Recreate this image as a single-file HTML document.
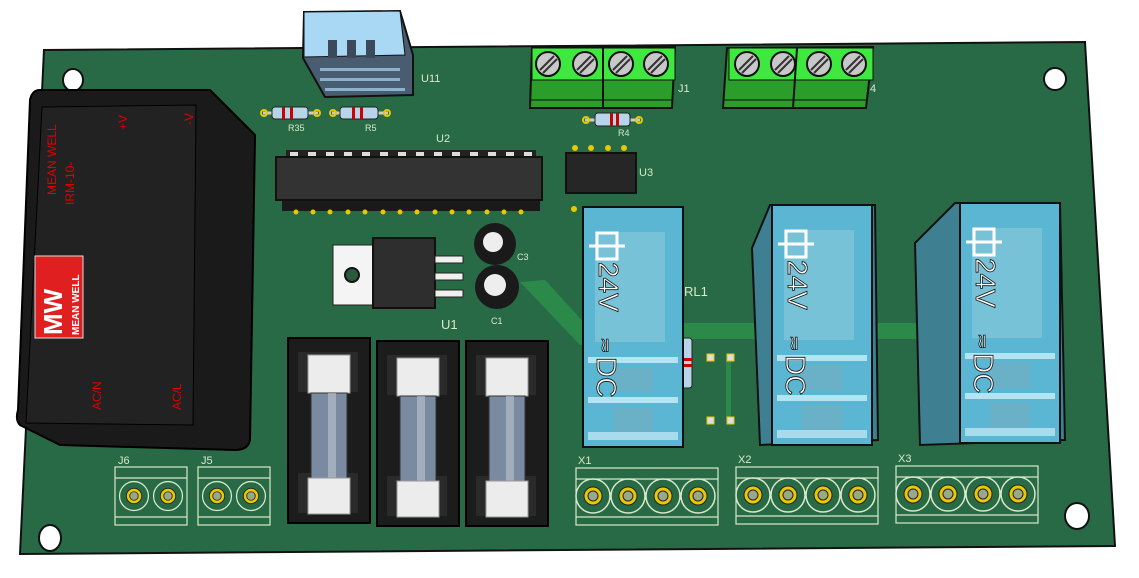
<!DOCTYPE html>
<html><head><meta charset="utf-8"><style>
html,body{margin:0;padding:0;background:#fff;width:1139px;height:578px;overflow:hidden}
svg{display:block}
text{font-family:"Liberation Sans",sans-serif}
</style></head><body>
<svg width="1139" height="578" viewBox="0 0 1139 578" xmlns="http://www.w3.org/2000/svg">
<defs>
<g id="scr"><circle r="12" fill="#c8c8c8" stroke="#111" stroke-width="2"/><line x1="-8" y1="6" x2="6" y2="-8" stroke="#333" stroke-width="2"/><line x1="-5" y1="9" x2="9" y2="-5" stroke="#333" stroke-width="2"/></g>
<g id="pad"><circle r="17" fill="none" stroke="#d8e8c8" stroke-width="1.5"/><circle r="9" fill="#e8c800" stroke="#222" stroke-width="1"/><circle r="5" fill="#9aa88a" stroke="#222"/></g>
<g id="fuse">
<rect x="0" y="0" width="82" height="185" fill="#1c1c1c" stroke="#000" stroke-width="2"/>
<rect x="10" y="14" width="60" height="40" fill="#2a2a2a"/>
<rect x="10" y="135" width="60" height="40" fill="#2a2a2a"/>
<rect x="20" y="17" width="42" height="38" fill="#ececec" stroke="#999"/>
<rect x="23" y="55" width="36" height="88" fill="#7a8aa0" stroke="#333"/>
<rect x="40" y="55" width="8" height="88" fill="#bcc4d0" opacity=".6"/>
<rect x="20" y="140" width="42" height="36" fill="#ececec" stroke="#999"/>
</g>
<g id="relay">
<rect x="0" y="0" width="100" height="240" fill="#5ab6d2" stroke="#111" stroke-width="2"/>
<rect x="12" y="25" width="70" height="110" fill="#78c2d8"/>
<rect x="5" y="150" width="90" height="6" fill="#b4e4f2"/>
<rect x="5" y="190" width="90" height="6" fill="#b4e4f2"/>
<rect x="30" y="160" width="40" height="25" fill="#6ab0c6"/>
<rect x="30" y="200" width="40" height="25" fill="#6ab0c6"/>
<rect x="5" y="225" width="90" height="8" fill="#a8dcec"/>
<rect x="14" y="26" width="20" height="26" fill="none" stroke="#fff" stroke-width="3"/>
<line x1="6" y1="39" x2="42" y2="39" stroke="#fff" stroke-width="3"/>
<text transform="translate(16,55) rotate(90)" font-size="28" fill="#fff" stroke="#111" stroke-width=".8">24V</text>
<text transform="translate(16,130) rotate(90)" font-size="20" fill="#fff" stroke="#111" stroke-width=".8">≂</text>
<text transform="translate(14,150) rotate(90)" font-size="28" fill="#fff" stroke="#111" stroke-width=".8">DC</text>
</g>
</defs>
<polygon points="44,50 1085,42 1115,546 20,554" fill="#276a45" stroke="#111" stroke-width="2"/>
<polygon points="520,282 545,280 600,340 580,345" fill="#2b8a4a"/>
<rect x="680" y="323" width="250" height="16" fill="#2b8a4a"/>
<rect x="726" y="360" width="5" height="58" fill="#2b8a4a"/>
<ellipse cx="73" cy="80" rx="10" ry="11" fill="#fff" stroke="#111" stroke-width="2"/>
<ellipse cx="1055" cy="79" rx="11" ry="11" fill="#fff" stroke="#111" stroke-width="2"/>
<ellipse cx="1077" cy="516" rx="12" ry="13" fill="#fff" stroke="#111" stroke-width="2"/>
<ellipse cx="50" cy="538" rx="11" ry="13" fill="#fff" stroke="#111" stroke-width="2"/>
<path d="M40,90 L210,90 L255,135 L250,440 Q248,450 235,450 L60,445 L20,425 Q15,420 18,410 L30,100 Q32,90 40,90Z" fill="#1a1a1a" stroke="#000" stroke-width="2"/>
<polygon points="42,107 196,105 193,425 26,423" fill="#222" stroke="#000"/>
<text transform="translate(56,195) rotate(-90)" font-size="12" fill="#e00000">MEAN WELL</text>
<text transform="translate(74,205) rotate(-90)" font-size="12" fill="#e00000">IRM-10-</text>
<text transform="translate(127,130) rotate(-90)" font-size="12" fill="#e00000">+V</text>
<text transform="translate(193,125) rotate(-90)" font-size="12" fill="#e00000">-V</text>
<text transform="translate(101,410) rotate(-90)" font-size="12" fill="#e00000">AC/N</text>
<text transform="translate(181,410) rotate(-90)" font-size="12" fill="#e00000">AC/L</text>
<rect x="35" y="256" width="48" height="82" fill="#e02020" stroke="#ddd"/>
<text transform="translate(62,335) rotate(-90)" font-size="26" font-weight="bold" fill="#fff">MW</text>
<text transform="translate(79,335) rotate(-90)" font-size="10" font-weight="bold" fill="#fff">MEAN WELL</text>
<polygon points="304,12 400,11 413,55 413,95 325,97 303,58" fill="#4a5c70" stroke="#111" stroke-width="2"/>
<polygon points="304,12 400,11 405,55 304,57" fill="#a8d8f4" stroke="#111"/>
<rect x="328" y="40" width="9" height="18" fill="#3a4a5a"/><rect x="347" y="40" width="9" height="18" fill="#3a4a5a"/><rect x="366" y="40" width="9" height="18" fill="#3a4a5a"/>
<g fill="#a8d8f4"><rect x="320" y="68" width="80" height="3" opacity=".7"/><rect x="320" y="78" width="80" height="3" opacity=".7"/><rect x="325" y="88" width="80" height="3" opacity=".7"/></g>
<text x="421" y="82" font-size="11" fill="#d8e8c8">U11</text>
<g><line x1="263" y1="113" x2="318" y2="113" stroke="#ccc" stroke-width="3"/><rect x="272" y="107" width="36" height="12" rx="3" fill="#b8d4e8" stroke="#222"/><rect x="282" y="107" width="3" height="12" fill="#c00"/><rect x="290" y="107" width="3" height="12" fill="#c00"/><circle cx="264" cy="113" r="3" fill="none" stroke="#e8c800" stroke-width="2"/><circle cx="317" cy="113" r="3" fill="none" stroke="#e8c800" stroke-width="2"/><text x="288" y="131" font-size="9" fill="#d8e8c8">R35</text></g>
<g><line x1="332" y1="113" x2="388" y2="113" stroke="#ccc" stroke-width="3"/><rect x="340" y="107" width="38" height="12" rx="3" fill="#b8d4e8" stroke="#222"/><rect x="352" y="107" width="3" height="12" fill="#c00"/><rect x="360" y="107" width="3" height="12" fill="#c00"/><circle cx="333" cy="113" r="3" fill="none" stroke="#e8c800" stroke-width="2"/><circle cx="387" cy="113" r="3" fill="none" stroke="#e8c800" stroke-width="2"/><text x="365" y="131" font-size="9" fill="#d8e8c8">R5</text></g>
<g><line x1="585" y1="120" x2="640" y2="120" stroke="#ccc" stroke-width="3"/><rect x="595" y="113" width="35" height="13" rx="3" fill="#b8d4e8" stroke="#222"/><rect x="610" y="113" width="3" height="13" fill="#c00"/><rect x="616" y="113" width="3" height="13" fill="#c00"/><circle cx="586" cy="120" r="3" fill="none" stroke="#e8c800" stroke-width="2"/><circle cx="639" cy="120" r="3" fill="none" stroke="#e8c800" stroke-width="2"/><text x="618" y="136" font-size="9" fill="#d8e8c8">R4</text></g>
<g><polygon points="532,48 675,47 672,108 530,108" fill="#2a9d2a" stroke="#111" stroke-width="2"/><rect x="532" y="48" width="143" height="32" fill="#3ee83e" stroke="#111"/><line x1="603" y1="48" x2="603" y2="108" stroke="#111" stroke-width="2"/><line x1="530" y1="100" x2="672" y2="100" stroke="#111"/>
<use href="#scr" x="548" y="64"/><use href="#scr" x="585" y="64"/><use href="#scr" x="621" y="64"/><use href="#scr" x="656" y="64"/><text x="678" y="92" font-size="11" fill="#d8e8c8">J1</text></g>
<g><polygon points="727,48 873,47 866,108 723,108" fill="#2a9d2a" stroke="#111" stroke-width="2"/><rect x="729" y="48" width="144" height="32" fill="#3ee83e" stroke="#111"/><line x1="797" y1="48" x2="793" y2="108" stroke="#111" stroke-width="2"/><line x1="723" y1="100" x2="866" y2="100" stroke="#111"/>
<use href="#scr" x="747" y="64"/><use href="#scr" x="783" y="64"/><use href="#scr" x="819" y="64"/><use href="#scr" x="854" y="64"/><text x="870" y="92" font-size="11" fill="#d8e8c8">4</text></g>
<text x="436" y="142" font-size="11" fill="#d8e8c8">U2</text>
<rect x="286" y="150" width="250" height="8" fill="#222"/>
<g fill="#ddd"><rect x="290" y="152" width="8" height="5"/><rect x="308" y="152" width="8" height="5"/><rect x="326" y="152" width="8" height="5"/><rect x="344" y="152" width="8" height="5"/><rect x="362" y="152" width="8" height="5"/><rect x="380" y="152" width="8" height="5"/><rect x="398" y="152" width="8" height="5"/><rect x="416" y="152" width="8" height="5"/><rect x="434" y="152" width="8" height="5"/><rect x="452" y="152" width="8" height="5"/><rect x="470" y="152" width="8" height="5"/><rect x="488" y="152" width="8" height="5"/><rect x="506" y="152" width="8" height="5"/><rect x="524" y="152" width="8" height="5"/></g>
<rect x="282" y="192" width="258" height="19" fill="#1a1a1a"/>
<g fill="#e8c800"><circle cx="296" cy="212" r="2.5"/><circle cx="313" cy="212" r="2.5"/><circle cx="330" cy="212" r="2.5"/><circle cx="348" cy="212" r="2.5"/><circle cx="365" cy="212" r="2.5"/><circle cx="383" cy="212" r="2.5"/><circle cx="400" cy="212" r="2.5"/><circle cx="417" cy="212" r="2.5"/><circle cx="435" cy="212" r="2.5"/><circle cx="452" cy="212" r="2.5"/><circle cx="469" cy="212" r="2.5"/><circle cx="487" cy="212" r="2.5"/><circle cx="504" cy="212" r="2.5"/><circle cx="521" cy="212" r="2.5"/></g>
<rect x="276" y="157" width="266" height="43" fill="#333" stroke="#111" stroke-width="2"/>
<g fill="#e8c800"><circle cx="575" cy="148" r="3"/><circle cx="591" cy="148" r="3"/><circle cx="608" cy="148" r="3"/><circle cx="624" cy="148" r="3"/><circle cx="574" cy="209" r="3"/></g>
<rect x="566" y="153" width="70" height="40" fill="#262626" stroke="#111" stroke-width="2"/>
<text x="639" y="176" font-size="11" fill="#d8e8c8">U3</text>
<rect x="333" y="245" width="40" height="60" fill="#f4f4f4" stroke="#222"/>
<circle cx="352" cy="275" r="7" fill="#2a5a3a" stroke="#111" stroke-width="2"/>
<rect x="373" y="238" width="62" height="70" fill="#2e2e2e" stroke="#111" stroke-width="2"/>
<rect x="435" y="256" width="28" height="7" fill="#f0f0f0" stroke="#222"/><rect x="435" y="273" width="28" height="7" fill="#f0f0f0" stroke="#222"/><rect x="435" y="290" width="28" height="7" fill="#f0f0f0" stroke="#222"/>
<text x="441" y="329" font-size="13" fill="#d8e8c8">U1</text>
<circle cx="495" cy="244" r="21" fill="#1a1a1a"/><circle cx="493" cy="242" r="10" fill="#eee"/>
<circle cx="497" cy="287" r="22" fill="#1a1a1a"/><circle cx="495" cy="285" r="11" fill="#eee"/>
<text x="517" y="260" font-size="9" fill="#d8e8c8">C3</text><text x="491" y="324" font-size="9" fill="#d8e8c8">C1</text>
<use href="#fuse" x="288" y="338"/><use href="#fuse" x="377" y="341"/><use href="#fuse" x="466" y="341"/>
<g fill="none" stroke="#d8e8c8" stroke-width="1.2">
<rect x="115" y="467" width="72" height="58"/><line x1="115" y1="478" x2="187" y2="478"/><line x1="115" y1="517" x2="187" y2="517"/>
<rect x="198" y="467" width="72" height="58"/><line x1="198" y1="478" x2="270" y2="478"/><line x1="198" y1="517" x2="270" y2="517"/>
<rect x="576" y="468" width="142" height="57"/><line x1="576" y1="479" x2="718" y2="479"/><line x1="576" y1="517" x2="718" y2="517"/>
<rect x="736" y="467" width="142" height="57"/><line x1="736" y1="478" x2="878" y2="478"/><line x1="736" y1="516" x2="878" y2="516"/>
<rect x="896" y="466" width="142" height="57"/><line x1="896" y1="477" x2="1038" y2="477"/><line x1="896" y1="515" x2="1038" y2="515"/>
</g>
<g font-size="11" fill="#d8e8c8"><text x="118" y="464">J6</text><text x="201" y="464">J5</text><text x="578" y="464">X1</text><text x="738" y="463">X2</text><text x="898" y="462">X3</text></g>
<g transform="translate(134,496) scale(.85)"><use href="#pad"/></g><g transform="translate(168,496) scale(.85)"><use href="#pad"/></g>
<g transform="translate(217,496) scale(.85)"><use href="#pad"/></g><g transform="translate(251,496) scale(.85)"><use href="#pad"/></g>
<use href="#pad" x="593" y="496"/><use href="#pad" x="628" y="496"/><use href="#pad" x="663" y="496"/><use href="#pad" x="698" y="496"/>
<use href="#pad" x="753" y="495"/><use href="#pad" x="788" y="495"/><use href="#pad" x="823" y="495"/><use href="#pad" x="858" y="495"/>
<use href="#pad" x="913" y="494"/><use href="#pad" x="948" y="494"/><use href="#pad" x="983" y="494"/><use href="#pad" x="1018" y="494"/>
<rect x="680" y="338" width="12" height="50" rx="3" fill="#b8d4e8" stroke="#222"/><rect x="680" y="358" width="12" height="3" fill="#c00"/><rect x="680" y="364" width="12" height="3" fill="#c00"/>
<g fill="#ddd" stroke="#e8c800"><rect x="707" y="354" width="7" height="7"/><rect x="727" y="354" width="7" height="7"/><rect x="707" y="417" width="7" height="7"/><rect x="727" y="417" width="7" height="7"/></g>
<text x="684" y="296" font-size="13" fill="#d8e8c8">RL1</text>
<use href="#relay" x="583" y="207"/>
<polygon points="752,248 770,205 875,205 878,440 760,445" fill="#3f7f92" stroke="#111" stroke-width="2"/>
<use href="#relay" x="772" y="205"/>
<polygon points="915,243 955,203 1060,203 1065,440 920,445" fill="#3f7f92" stroke="#111" stroke-width="2"/>
<use href="#relay" x="960" y="203"/>
</svg>
</body></html>
